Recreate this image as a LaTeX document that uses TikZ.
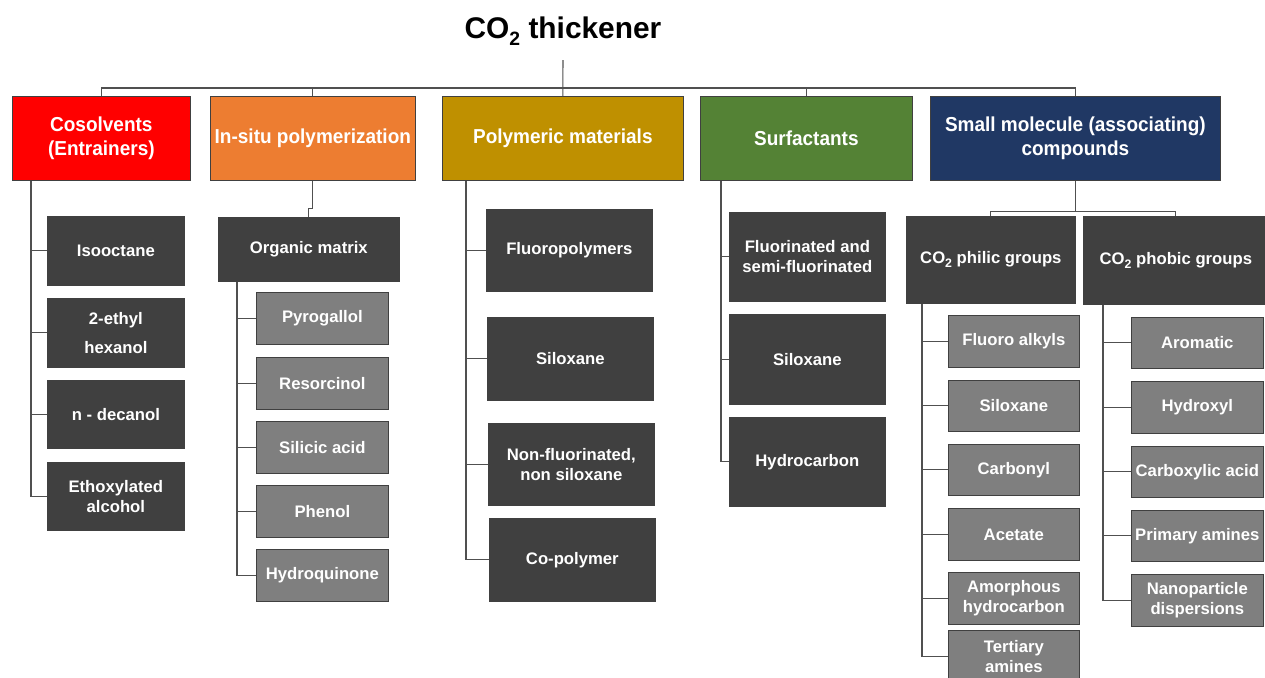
\documentclass[tikz,border=0pt]{standalone}
\usepackage{fontspec}
\setmainfont{Liberation Sans}
\newfontfamily\headfont{Liberation Sans}[FakeStretch=0.94]
\usetikzlibrary{positioning}
\definecolor{catred}{RGB}{255,0,0}
\definecolor{catorange}{RGB}{237,125,49}
\definecolor{catgold}{RGB}{191,144,0}
\definecolor{catgreen}{RGB}{84,130,53}
\definecolor{catnavy}{RGB}{32,56,100}
\definecolor{darkbox}{RGB}{64,64,64}
\definecolor{lightbox}{RGB}{127,127,127}
\definecolor{wire}{RGB}{80,80,80}
\newcommand{\cotwo}[1]{CO\raisebox{-0.45ex}{\fontsize{#1}{#1}\selectfont 2}}
\tikzset{
    size/.style 2 args={minimum width=#1*0.02cm, minimum height=#2*0.02cm}, % box size in px
    every node/.style={inner sep=0pt, align=center, anchor=north west},
    cat/.style={draw=black!75, line width=0.4pt, text=white,
        font=\headfont\bfseries\fontsize{11.5}{14}\selectfont}, % first level
    item/.style={draw=black!75, line width=0.4pt, fill=darkbox, text=white,
        font=\bfseries\fontsize{9.5}{11.5}\selectfont}, % dark boxes
    sub/.style={item, fill=lightbox}, % grey boxes
    link/.style={draw=wire, line width=0.6pt}, % tree lines
}

\begin{document}
\begin{tikzpicture}[x=0.02cm, y=-0.02cm]
    \clip (0,0) rectangle (1265,677);
    \node[anchor=base, font=\bfseries\fontsize{17}{20}\selectfont] (title) at (563,38) {\cotwo{11} thickener};
    \coordinate (top) at (563,60);

    \node[cat, fill=catred, size={178}{84}] (cos) at (12,96) {Cosolvents\\(Entrainers)};
    \node[cat, fill=catorange, size={205}{84}] (ins) at (210,96) {In-situ polymerization};
    \node[cat, fill=catgold, size={241}{84}] (pol) at (442,96) {Polymeric materials};
    \node[cat, fill=catgreen, size={212}{84}] (sur) at (700,96) {Surfactants};
    \node[cat, fill=catnavy, size={290}{84}] (sm) at (930,96) {Small molecule (associating)\\compounds};

    \node[item, size={137}{69}] (iso) at (47,216) {Isooctane};
    \node[item, size={137}{69}] (ehx) at (47,298) {2-ethyl\\[5pt]hexanol};
    \node[item, size={137}{68}] (dec) at (47,380) {n - decanol};
    \node[item, size={137}{68}] (eth) at (47,462) {Ethoxylated\\alcohol};

    \node[item, size={181}{64}] (org) at (218,217) {Organic matrix};
    \node[sub, size={132}{52}] (pyr) at (256,292) {Pyrogallol};
    \node[sub, size={132}{52}] (res) at (256,357) {Resorcinol};
    \node[sub, size={132}{52}] (sil) at (256,421) {Silicic acid};
    \node[sub, size={132}{52}] (phe) at (256,485) {Phenol};
    \node[sub, size={132}{52}] (hyq) at (256,549) {Hydroquinone};

    \node[item, size={166}{82}] (flp) at (486,209) {Fluoropolymers};
    \node[item, size={166}{83}] (pslx) at (487,317) {Siloxane};
    \node[item, size={166}{82}] (nfl) at (488,423) {Non-fluorinated,\\non siloxane};
    \node[item, size={166}{83}] (cop) at (489,518) {Co-polymer};

    \node[item, size={156}{89}] (fsf) at (729,212) {Fluorinated and\\semi-fluorinated};
    \node[item, size={156}{90}] (sslx) at (729,314) {Siloxane};
    \node[item, size={156}{89}] (hyc) at (729,417) {Hydrocarbon};

    \node[item, size={169}{87}] (phil) at (906,216) {\cotwo{7} philic groups};
    \node[item, size={185}{88}] (phob) at (1083,216) {\cotwo{7} phobic groups};
    \node[sub, size={131}{52}] (fal) at (948,315) {Fluoro alkyls};
    \node[sub, size={131}{51}] (cslx) at (948,380) {Siloxane};
    \node[sub, size={131}{51}] (cbn) at (948,444) {Carbonyl};
    \node[sub, size={131}{52}] (act) at (948,508) {Acetate};
    \node[sub, size={131}{52}] (amh) at (948,572) {Amorphous\\hydrocarbon};
    \node[sub, size={131}{52}] (tam) at (948,630) {Tertiary\\amines};
    \node[sub, size={132}{51}] (aro) at (1131,317) {Aromatic};
    \node[sub, size={132}{52}] (hyx) at (1131,381) {Hydroxyl};
    \node[sub, size={132}{51}] (cxa) at (1131,446) {Carboxylic acid};
    \node[sub, size={132}{51}] (pam) at (1131,510) {Primary amines};
    \node[sub, size={132}{52}] (npd) at (1131,574) {Nanoparticle\\dispersions};

    \draw[link] (top) -- (pol.north);
    \draw[link] (cos.north) -- ++(0,-8) -| (sm.north);
    \foreach \n in {ins,sur} \draw[link] (\n.north) -- ++(0,-8);
    \draw[link] (ins.south) -- ++(0,28) -| (org.north);
    \foreach \n in {phil,phob} \draw[link] (sm.south) -- ++(0,31) -| (\n.north);

    \foreach \n in {iso,ehx,dec,eth} \draw[link] (cos.south west) ++(19,0) |- (\n.west);
    \foreach \n in {pyr,res,sil,phe,hyq} \draw[link] (org.south west) ++(19,0) |- (\n.west);
    \foreach \n in {flp,pslx,nfl,cop} \draw[link] (pol.south west) ++(24,0) |- (\n.west);
    \foreach \n in {fsf,sslx,hyc} \draw[link] (sur.south west) ++(21,0) |- (\n.west);
    \foreach \n in {fal,cslx,cbn,act,amh,tam} \draw[link] (phil.south west) ++(16,0) |- (\n.west);
    \foreach \n in {aro,hyx,cxa,pam,npd} \draw[link] (phob.south west) ++(20,0) |- (\n.west);
\end{tikzpicture}
\end{document}
